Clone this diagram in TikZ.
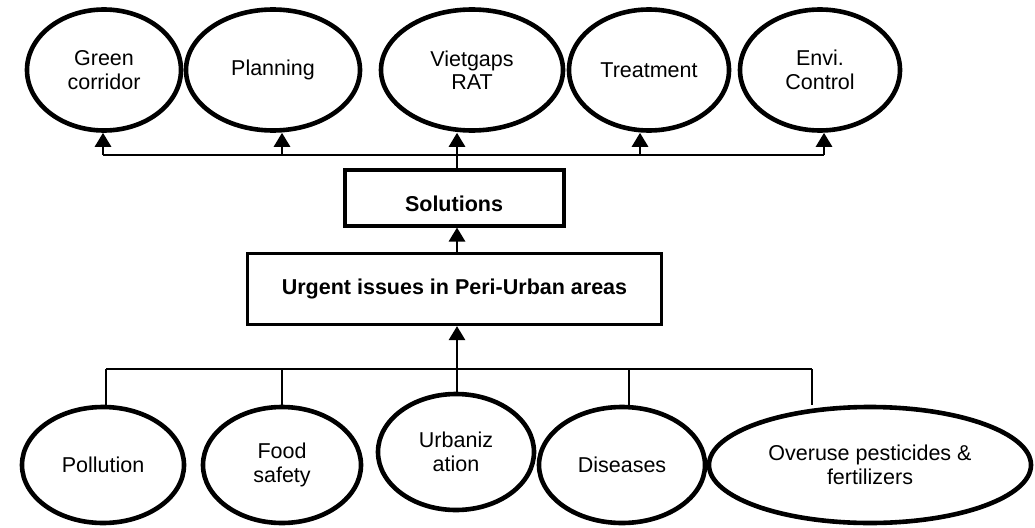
\documentclass[tikz,border=0pt]{standalone}
\usepackage{fontspec}
\setmainfont{Liberation Sans}
\usetikzlibrary{arrows.meta,shapes.geometric}
\usetikzlibrary{positioning}

\begin{document}
\begin{tikzpicture}[x=1pt,y=-1pt,
  oval/.style={ellipse,draw=black,line width=4.6pt,inner sep=0pt,align=center,font=\fontsize{21.5}{23.5}\selectfont},
  box/.style={rectangle,draw=black,inner sep=0pt,align=center,font=\fontsize{21.5}{23.5}\selectfont\bfseries},
  link/.style={line width=2.8pt},
  arr/.style={link,-{Triangle[width=16pt,length=14pt]}}]
\useasboundingbox (0,0) rectangle (1035,527);
% top row
\node at (104,70)[oval,minimum width=154pt,minimum height=121pt](green){Green\\corridor};
\node at (273,70)[oval,minimum width=174pt,minimum height=121pt](plan){Planning};
\node at (472,70)[oval,minimum width=182pt,minimum height=121pt](viet){Vietgaps\\RAT};
\node at (649,70)[oval,minimum width=160pt,minimum height=121pt](treat){Treatment};
\node at (820,70)[oval,minimum width=160pt,minimum height=121pt](envi){Envi.\\Control};
% middle boxes
\node at (454,197.5)[box,line width=4pt,minimum width=219pt,minimum height=56pt,text height=27pt,text depth=0pt](sol){Solutions};
\node at (454.5,289)[box,line width=3.2pt,minimum width=414pt,minimum height=71pt](urg){Urgent issues in Peri-Urban areas};
% bottom row
\node at (103,465)[oval,minimum width=162pt,minimum height=116pt](poll){Pollution};
\node at (282,465)[oval,minimum width=158pt,minimum height=116pt](food){Food\\safety};
\node at (456,452)[oval,minimum width=156pt,minimum height=116pt](urb){Urbaniz\\ation};
\node at (622,465)[oval,minimum width=166pt,minimum height=116pt](dis){Diseases};
\node at (870,465)[oval,minimum width=322pt,minimum height=116pt](over){Overuse pesticides \&\\fertilizers};
% top bus
\coordinate (t1) at (103,155);
\coordinate (t2) at (282,155);
\coordinate (t3) at (457,155);
\coordinate (t4) at (640,155);
\coordinate (t5) at (824,155);
\draw[link] (t1) -- (t5);
\draw[arr] (t1) -- (t1 |- green.south);
\draw[arr] (t2) -- (t2 |- plan.south);
\draw[arr] (t3) -- (t3 |- viet.south);
\draw[arr] (t4) -- (t4 |- treat.south);
\draw[arr] (t5) -- (t5 |- envi.south);
\draw[link] (sol.north -| t3) -- (t3);
\draw[arr] (urg.north -| t3) -- (sol.south -| t3);
% bottom bus
\coordinate (b1) at (106,369);
\coordinate (b2) at (282,369);
\coordinate (b4) at (629,369);
\coordinate (b5) at (812,369);
\draw[link] (b1) -- (b5);
\draw[link] (b1) -- (b1 |- poll.north);
\draw[link] (b2) -- (b2 |- food.north);
\draw[link] (b4) -- (b4 |- dis.north);
\draw[link] (b5) -- ++(0,36);
\draw[arr] (urb.north -| t3) -- (urg.south -| t3);
\end{tikzpicture}
\end{document}
